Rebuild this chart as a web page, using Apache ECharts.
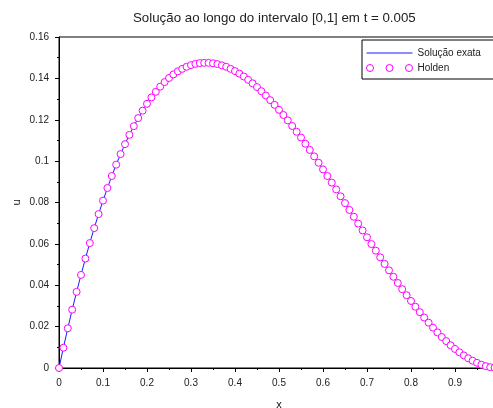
<!DOCTYPE html>
<html>
<head>
<meta charset="utf-8">
<script src="https://cdn.jsdelivr.net/npm/echarts@6/dist/echarts.min.js"></script>
<style>
  html, body { margin: 0; padding: 0; background: #fff; }
  #chart { width: 493px; height: 408px; }
</style>
</head>
<body>
<div id="chart"></div>
<script>
// x grid points on [0,1], step 0.01
const xs = [0,0.01,0.02,0.03,0.04,0.05,0.06,0.07,0.08,0.09,
  0.1,0.11,0.12,0.13,0.14,0.15,0.16,0.17,0.18,0.19,
  0.2,0.21,0.22,0.23,0.24,0.25,0.26,0.27,0.28,0.29,
  0.3,0.31,0.32,0.33,0.34,0.35,0.36,0.37,0.38,0.39,
  0.4,0.41,0.42,0.43,0.44,0.45,0.46,0.47,0.48,0.49,
  0.5,0.51,0.52,0.53,0.54,0.55,0.56,0.57,0.58,0.59,
  0.6,0.61,0.62,0.63,0.64,0.65,0.66,0.67,0.68,0.69,
  0.7,0.71,0.72,0.73,0.74,0.75,0.76,0.77,0.78,0.79,
  0.8,0.81,0.82,0.83,0.84,0.85,0.86,0.87,0.88,0.89,
  0.9,0.91,0.92,0.93,0.94,0.95,0.96,0.97,0.98,0.99,1];

// Solução exata
const exactU = [0,0.0098,0.0192,0.0282,0.0368,0.0450,0.0529,0.0604,0.0676,0.0744,
  0.0809,0.0870,0.0928,0.0983,0.1034,0.1082,0.1127,0.1169,0.1208,0.1244,
  0.1277,0.1308,0.1335,0.1360,0.1382,0.1402,0.1419,0.1434,0.1446,0.1456,
  0.1464,0.1470,0.1474,0.1475,0.1475,0.1473,0.1469,0.1463,0.1456,0.1446,
  0.1435,0.1423,0.1409,0.1393,0.1376,0.1358,0.1338,0.1317,0.1295,0.1272,
  0.1248,0.1223,0.1197,0.1170,0.1142,0.1114,0.1084,0.1054,0.1023,0.0992,
  0.0960,0.0928,0.0896,0.0863,0.0830,0.0797,0.0764,0.0731,0.0698,0.0665,
  0.0632,0.0599,0.0567,0.0535,0.0503,0.0472,0.0441,0.0411,0.0381,0.0352,
  0.0324,0.0296,0.0270,0.0244,0.0219,0.0195,0.0172,0.0150,0.0130,0.0110,
  0.0092,0.0076,0.0061,0.0047,0.0035,0.0025,0.0016,0.0009,0.0004,0.0001,0];

// Holden scheme markers (sit on the exact curve)
const holdenU = [0,0.0098,0.0192,0.0282,0.0368,0.0450,0.0529,0.0604,0.0676,0.0744,
  0.0809,0.0870,0.0928,0.0983,0.1034,0.1082,0.1127,0.1169,0.1208,0.1244,
  0.1277,0.1308,0.1335,0.1360,0.1382,0.1402,0.1419,0.1434,0.1446,0.1456,
  0.1464,0.1470,0.1474,0.1475,0.1475,0.1473,0.1469,0.1463,0.1456,0.1446,
  0.1435,0.1423,0.1409,0.1393,0.1376,0.1358,0.1338,0.1317,0.1295,0.1272,
  0.1248,0.1223,0.1197,0.1170,0.1142,0.1114,0.1084,0.1054,0.1023,0.0992,
  0.0960,0.0928,0.0896,0.0863,0.0830,0.0797,0.0764,0.0731,0.0698,0.0665,
  0.0632,0.0599,0.0567,0.0535,0.0503,0.0472,0.0441,0.0411,0.0381,0.0352,
  0.0324,0.0296,0.0270,0.0244,0.0219,0.0195,0.0172,0.0150,0.0130,0.0110,
  0.0092,0.0076,0.0061,0.0047,0.0035,0.0025,0.0016,0.0009,0.0004,0.0001,0];

const FONT = 'Liberation Sans, Arial, Helvetica, sans-serif';
const chart = echarts.init(document.getElementById('chart'));

const axisCommon = {
  axisLine: { show: true, lineStyle: { color: '#000', width: 1 } },
  axisTick: { show: true, length: 4, lineStyle: { color: '#000', width: 1 } },
  minorTick: { show: true, splitNumber: 2, length: 2, lineStyle: { color: '#000', width: 1 } },
  splitLine: { show: false },
  axisLabel: { color: '#222', fontSize: 10, fontFamily: FONT, margin: 10 },
  nameTextStyle: { color: '#111', fontSize: 11, fontFamily: FONT },
  nameMoveOverlap: false
};

chart.setOption({
  animation: false,
  title: {
    text: 'Solução ao longo do intervalo [0,1] em t = 0.005',
    left: 133, top: 12, padding: 0,
    textStyle: { fontSize: 13.3, fontWeight: 'normal', color: '#222', fontFamily: FONT }
  },
  grid: {
    left: 59, right: -6, top: 37, bottom: 40,
    outerBoundsMode: 'none', containLabel: false,
    show: true, borderColor: '#000', borderWidth: 1, backgroundColor: 'transparent'
  },
  legend: {
    orient: 'vertical', left: 362, top: 40,
    padding: [8, 40, 6, 4], itemGap: 5,
    itemWidth: 46, itemHeight: 8,
    backgroundColor: '#fff', borderColor: '#000', borderWidth: 1, borderRadius: 0,
    textStyle: { fontSize: 10, color: '#222', fontFamily: FONT },
    data: [
      { name: 'Solução exata',
        icon: 'path://M0,3.5L46,3.5L46,4.5L0,4.5Z',
        itemStyle: { color: '#1a1aff', borderWidth: 0 } },
      { name: 'Holden',
        icon: 'path://M0,3.5A3.5,3.5,0,1,0,7,3.5A3.5,3.5,0,1,0,0,3.5Z M19.5,3.5A3.5,3.5,0,1,0,26.5,3.5A3.5,3.5,0,1,0,19.5,3.5Z M39,3.5A3.5,3.5,0,1,0,46,3.5A3.5,3.5,0,1,0,39,3.5Z',
        itemStyle: { color: '#fff', borderColor: '#ff00ff', borderWidth: 1 } }
    ]
  },
  xAxis: Object.assign({}, axisCommon, {
    type: 'value', min: 0, max: 1, interval: 0.1,
    name: 'x', nameLocation: 'middle', nameGap: 31
  }),
  yAxis: Object.assign({}, axisCommon, {
    type: 'value', min: 0, max: 0.16, interval: 0.02,
    name: 'u', nameLocation: 'middle', nameGap: 37
  }),
  series: [
    {
      name: 'Solução exata', type: 'line',
      data: xs.map((x, i) => [x, exactU[i]]),
      symbol: 'none', lineStyle: { color: '#1a1aff', width: 1 },
      itemStyle: { color: '#1a1aff' }, z: 2
    },
    {
      name: 'Holden', type: 'scatter',
      data: xs.map((x, i) => [x, holdenU[i]]),
      symbol: 'circle', symbolSize: 7,
      itemStyle: { color: '#fff', borderColor: '#ff00ff', borderWidth: 1, opacity: 1 },
      z: 3
    }
  ]
});
</script>
</body>
</html>
